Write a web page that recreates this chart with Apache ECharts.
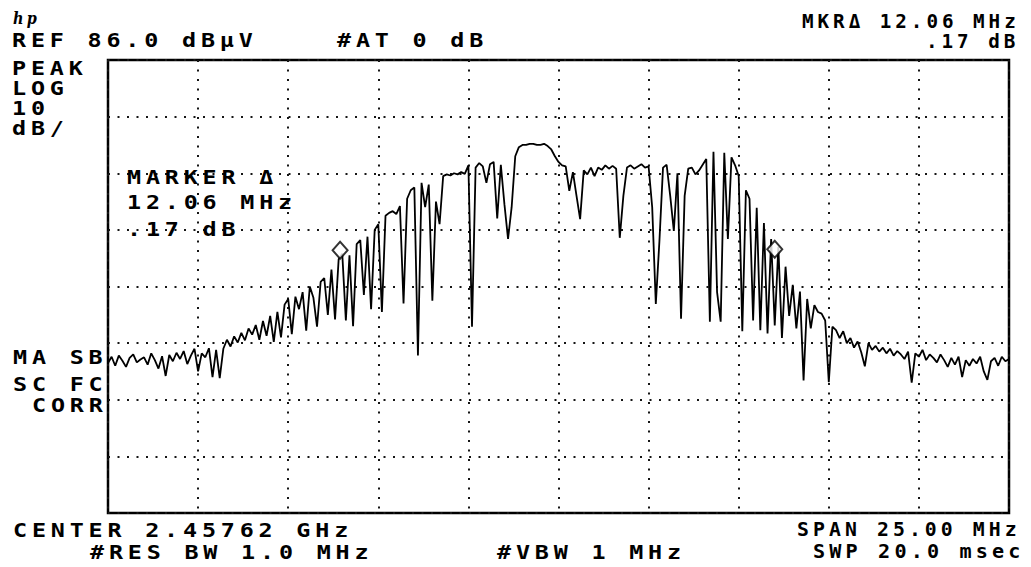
<!DOCTYPE html>
<html>
<head>
<meta charset="utf-8">
<script src="https://cdn.jsdelivr.net/npm/echarts@6/dist/echarts.min.js"></script>
<style>
html, body { margin: 0; padding: 0; background: #fff; }
#chart { width: 1031px; height: 567px; }
#chart text { letter-spacing: 3.7px; }
</style>
</head>
<body>
<div id="chart"></div>
<script>
// Sweep: frequency offset from centre (MHz), one trace point every 0.1 MHz
const sweepStartMHz = -12.5;
const sweepStepMHz = 0.1;

// Trace level in dBµV (REF 86.0 dBµV, 10 dB/div)
const traceLevels = [
  32.5, 33.6, 32.0, 33.8, 32.9, 31.8, 33.4, 34.0, 32.6, 33.1,
  33.5, 32.2, 34.2, 33.0, 31.5, 33.7, 30.2, 33.9, 32.8, 34.3,
  33.2, 34.6, 32.3, 33.8, 35.0, 31.0, 34.2, 33.5, 35.1, 30.0,
  34.8, 29.8, 35.0, 36.6, 35.4, 37.2, 36.1, 37.8, 36.5, 38.6,
  37.5, 39.2, 36.6, 39.9, 37.3, 40.8, 36.2, 41.5, 37.0, 42.8,
  43.8, 37.6, 44.2, 42.0, 45.0, 38.2, 46.0, 44.0, 38.9, 46.8,
  47.5, 41.0, 49.0, 40.2, 50.8, 51.8, 40.0, 51.5, 39.0, 53.5,
  54.2, 44.5, 54.8, 42.0, 56.0, 57.0, 41.5, 58.5, 59.0, 59.3,
  58.8, 60.2, 43.0, 61.5, 63.0, 63.5, 33.8, 64.3, 60.0, 64.0,
  43.5, 61.0, 57.0, 65.5, 65.8, 65.6, 66.0, 65.8, 66.2, 65.9,
  67.4, 38.9, 67.0, 67.8, 67.2, 64.3, 67.6, 68.0, 58.0, 67.5,
  60.5, 54.4, 60.0, 69.0, 70.6, 71.0, 71.0, 71.2, 71.2, 71.0,
  71.0, 71.2, 70.8, 70.2, 69.0, 68.0, 67.4, 67.2, 62.9, 66.2,
  62.0, 57.9, 66.5, 65.8, 67.0, 65.5, 67.0, 66.6, 67.4, 66.8,
  67.3, 66.8, 54.6, 62.0, 67.0, 67.4, 66.8, 67.2, 67.6, 67.0,
  67.2, 60.0, 42.9, 54.0, 67.0, 67.5, 62.0, 55.8, 66.0, 40.3,
  62.0, 66.8, 67.0, 65.8, 66.5, 67.5, 68.5, 39.8, 69.8, 45.0,
  39.8, 69.6, 54.4, 68.8, 67.4, 65.5, 38.1, 63.0, 61.5, 40.0,
  59.9, 38.3, 57.2, 37.7, 54.4, 39.1, 53.0, 36.9, 49.5, 40.8,
  46.3, 38.6, 45.1, 29.4, 43.8, 38.6, 42.7, 41.5, 41.2, 40.0,
  29.1, 38.9, 38.3, 36.9, 38.1, 36.0, 36.9, 35.2, 36.3, 34.4,
  31.9, 36.0, 34.8, 35.5, 34.5, 35.2, 34.2, 35.0, 33.8, 34.6,
  34.0, 33.2, 34.5, 29.0, 34.2, 33.6, 34.8, 33.0, 34.0, 33.4,
  32.6, 34.0, 33.0, 31.8, 33.4, 32.2, 33.6, 30.0, 33.0, 32.0,
  33.2, 32.4, 33.6, 31.0, 29.5, 32.8, 33.4, 32.0, 33.6, 32.8,
  33.2
];

// Marker pair (MKR delta 12.06 MHz, .17 dB)
const markerFreqsMHz = [-6.06, 6.00];
const markerLevels = [52.40, 52.57];

// Screen annotations
const annotationTexts = [
  'hp',
  'REF 86.0 dBµV', '#AT 0 dB',
  'MKRΔ 12.06 MHz', '.17 dB',
  'PEAK', 'LOG', '10', 'dB/',
  'MARKER Δ', '12.06 MHz', '.17 dB',
  'MA SB', 'SC FC', 'CORR',
  'CENTER 2.45762 GHz', '#RES BW 1.0 MHz', '#VBW 1 MHz',
  'SPAN 25.00 MHz', 'SWP 20.0 msec'
];

// layout for annotations: [x, yCentre, scaleX]
const annotationLayout = [
  [13, 19, 0.9],
  [12, 40, 1.3], [337, 40, 1.3],
  [802, 21, 1.07], [926, 41, 1.07],
  [12, 68, 1.3], [12, 88, 1.3], [12, 108, 1.3], [12, 128, 1.3],
  [127, 177, 1.3], [127, 202, 1.3], [127, 229, 1.3],
  [13, 357, 1.3], [13, 384, 1.3], [32, 405, 1.3],
  [13, 530, 1.3], [90, 552, 1.3], [497, 552, 1.3],
  [797, 530, 1.1], [813, 552, 1.12]
];

const chart = echarts.init(document.getElementById('chart'), null, { renderer: 'svg' });

const dotted = { color: '#151515', width: 2, type: [2, 7.5] };
const monoFont = '"DejaVu Sans Mono", "Liberation Mono", monospace';

const traceData = traceLevels.map((v, i) => [Math.round((sweepStartMHz + i * sweepStepMHz) * 100) / 100, v]);
const markerData = markerFreqsMHz.map((f, i) => [f, markerLevels[i]]);

chart.setOption({
  animation: false,
  backgroundColor: '#ffffff',
  grid: {
    left: 108, right: 22, top: 60, bottom: 54,
    show: true, borderColor: '#000', borderWidth: 2.5, backgroundColor: 'transparent'
  },
  xAxis: {
    type: 'value', min: -12.5, max: 12.5, interval: 2.5,
    axisLine: { show: false }, axisTick: { show: false }, axisLabel: { show: false },
    splitLine: { show: true, lineStyle: dotted }
  },
  yAxis: [
    { type: 'value', min: 6, max: 86, show: false, splitLine: { show: false } },
    {
      type: 'value', min: 0, max: 8, interval: 1, position: 'left',
      axisLine: { show: false }, axisTick: { show: false }, axisLabel: { show: false },
      splitLine: { show: true, lineStyle: dotted }
    }
  ],
  series: [
    {
      type: 'line', yAxisIndex: 0, data: traceData, showSymbol: false,
      lineStyle: { color: '#000', width: 1.8 }, z: 3
    },
    {
      type: 'scatter', yAxisIndex: 0, data: markerData, symbol: 'diamond', symbolSize: [15, 17],
      itemStyle: { color: '#fff', borderColor: '#000', borderWidth: 2 }, z: 5
    }
  ],
  graphic: annotationTexts.map((t, i) => ({
    type: 'text',
    x: annotationLayout[i][0],
    y: annotationLayout[i][1],
    scaleX: annotationLayout[i][2],
    scaleY: i === 0 ? 1 : 1.08,
    z: 10,
    style: {
      text: t,
      fill: '#000',
      fontSize: i === 0 ? 16 : 18,
      lineHeight: i === 0 ? 16 : 18,
      fontFamily: i === 0 ? '"DejaVu Serif", serif' : monoFont,
      fontWeight: 'bold',
      fontStyle: i === 0 ? 'italic' : 'normal',
      align: 'left',
      verticalAlign: 'middle'
    }
  }))
});
</script>
</body>
</html>
